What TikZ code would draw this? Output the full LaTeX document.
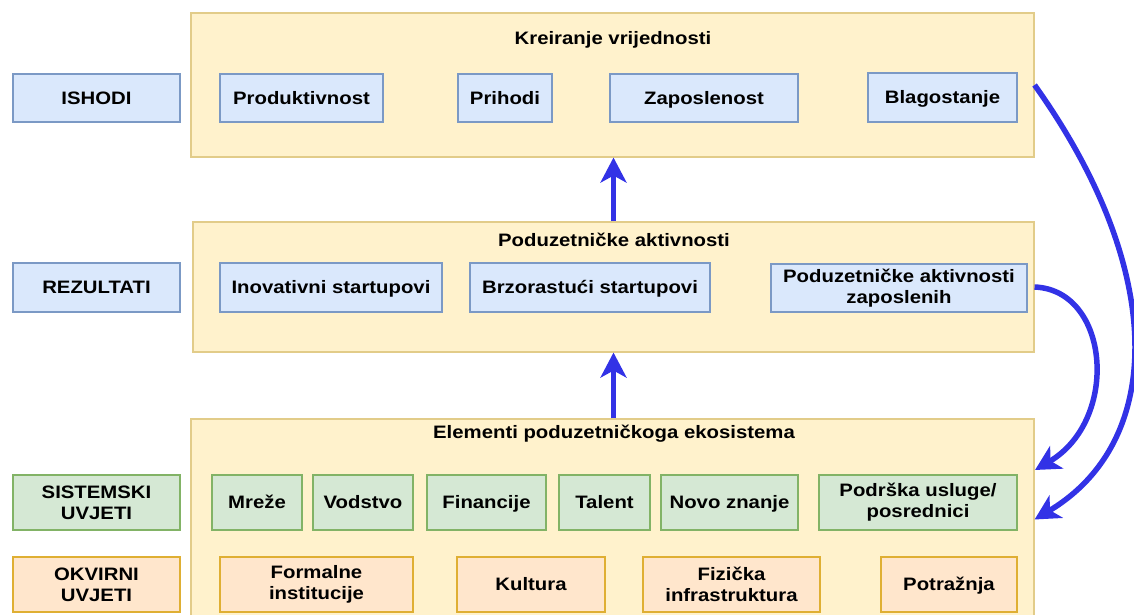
\documentclass[tikz,border=0pt]{standalone}
\usepackage{fontspec}
\setmainfont{Liberation Sans}[FakeStretch=1.13]
\usetikzlibrary{arrows.meta}
\definecolor{contfill}{HTML}{FFF2CC}
\definecolor{contdraw}{HTML}{D6B656}
\definecolor{bluefill}{HTML}{DAE8FC}
\definecolor{bluedraw}{HTML}{6C8EBF}
\definecolor{greenfill}{HTML}{D5E8D4}
\definecolor{greendraw}{HTML}{82B366}
\definecolor{orangefill}{HTML}{FFE6CC}
\definecolor{orangedraw}{HTML}{D79B00}
\definecolor{arrowblue}{RGB}{50,50,230}
\tikzset{
  base/.style={rectangle, inner sep=2pt, align=center, line width=1.1pt,
    font=\fontsize{18}{21}\selectfont\bfseries, text height=12.9pt, text depth=0pt},
  two/.style={text height=, text depth=},
  cont/.style={base, fill=contfill, draw=contdraw!70},
  bluebox/.style={base, fill=bluefill, draw=bluedraw!90},
  greenbox/.style={base, fill=greenfill, draw=greendraw},
  orangebox/.style={base, fill=orangefill, draw=orangedraw!80},
  ttl/.style={font=\fontsize{18}{21}\selectfont\bfseries, inner sep=1pt,
    text height=12.9pt, text depth=0pt},
  flow/.style={draw=arrowblue, line width=5.5pt,
    -{Stealth[length=25pt,width=26pt,inset=7pt]}}
}
\begin{document}
\begin{tikzpicture}[x=1pt,y=-1pt]
\useasboundingbox (0,0) rectangle (1134,615);
% containers
\node[cont, minimum width=843pt, minimum height=144pt] (topc) at (612.5,85) {};
\node[cont, minimum width=841pt, minimum height=130pt] (midc) at (613.5,287) {};
\node[cont, minimum width=843pt, minimum height=201pt] (botc) at (612.5,519.5) {};
% titles
\node[ttl] (t1) at (613,38) {Kreiranje vrijednosti};
\node[ttl] (t2) at (614,240) {Poduzetničke aktivnosti};
\node[ttl] (t3) at (614,432) {Elementi poduzetničkoga ekosistema};
% left labels
\node[bluebox, minimum width=167pt, minimum height=48pt] (ishodi) at (96.5,98) {ISHODI};
\node[bluebox, minimum width=167pt, minimum height=49pt] (rez) at (96.5,287.5) {REZULTATI};
\node[greenbox, two, minimum width=167pt, minimum height=55pt] (sist) at (96.5,502.5) {SISTEMSKI\\UVJETI};
\node[orangebox, two, minimum width=167pt, minimum height=55pt] (okv) at (96.5,584.5) {OKVIRNI\\UVJETI};
% outcomes
\node[bluebox, minimum width=163pt, minimum height=48pt] (prod) at (301.5,98) {Produktivnost};
\node[bluebox, minimum width=94pt, minimum height=48pt] (prih) at (505,98) {Prihodi};
\node[bluebox, minimum width=188pt, minimum height=48pt] (zap) at (704,98) {Zaposlenost};
\node[bluebox, minimum width=149pt, minimum height=49pt] (blag) at (942.5,97.5) {Blagostanje};
% results
\node[bluebox, minimum width=222pt, minimum height=49pt] (inov) at (331,287.5) {Inovativni startupovi};
\node[bluebox, minimum width=240pt, minimum height=49pt] (brzo) at (590,287.5) {Brzorastući startupovi};
\node[bluebox, two, minimum width=256pt, minimum height=48pt] (pazap) at (899,288) {Poduzetničke aktivnosti\\zaposlenih};
% systemic conditions
\node[greenbox, minimum width=90pt, minimum height=55pt] (mreze) at (257,502.5) {Mreže};
\node[greenbox, minimum width=100pt, minimum height=55pt] (vod) at (363,502.5) {Vodstvo};
\node[greenbox, minimum width=119pt, minimum height=55pt] (fin) at (486.5,502.5) {Financije};
\node[greenbox, minimum width=91pt, minimum height=55pt] (tal) at (604.5,502.5) {Talent};
\node[greenbox, minimum width=137pt, minimum height=55pt] (novo) at (729.5,502.5) {Novo znanje};
\node[greenbox, two, minimum width=198pt, minimum height=55pt] (podr) at (918,502.5) {Podrška usluge/\\posrednici};
% framework conditions
\node[orangebox, two, minimum width=193pt, minimum height=55pt] (form) at (316.5,584.5) {Formalne\\institucije};
\node[orangebox, minimum width=148pt, minimum height=55pt] (kult) at (531,584.5) {Kultura};
\node[orangebox, two, minimum width=177pt, minimum height=55pt] (fiz) at (731.5,584.5) {Fizička\\infrastruktura};
\node[orangebox, minimum width=136pt, minimum height=55pt] (potr) at (949,584.5) {Potražnja};
% connectors
\draw[flow] (midc.north) -- (midc.north |- topc.south);
\draw[flow] (botc.north -| midc.north) -- (midc.south);
\coordinate (inA) at (1035,470);
\draw[flow] (midc.east) .. controls (1110,290) and (1120,420) .. (inA);
\draw[flow] (topc.east) .. controls (1166,269) and (1166,441) .. (botc.east);
\end{tikzpicture}
\end{document}
